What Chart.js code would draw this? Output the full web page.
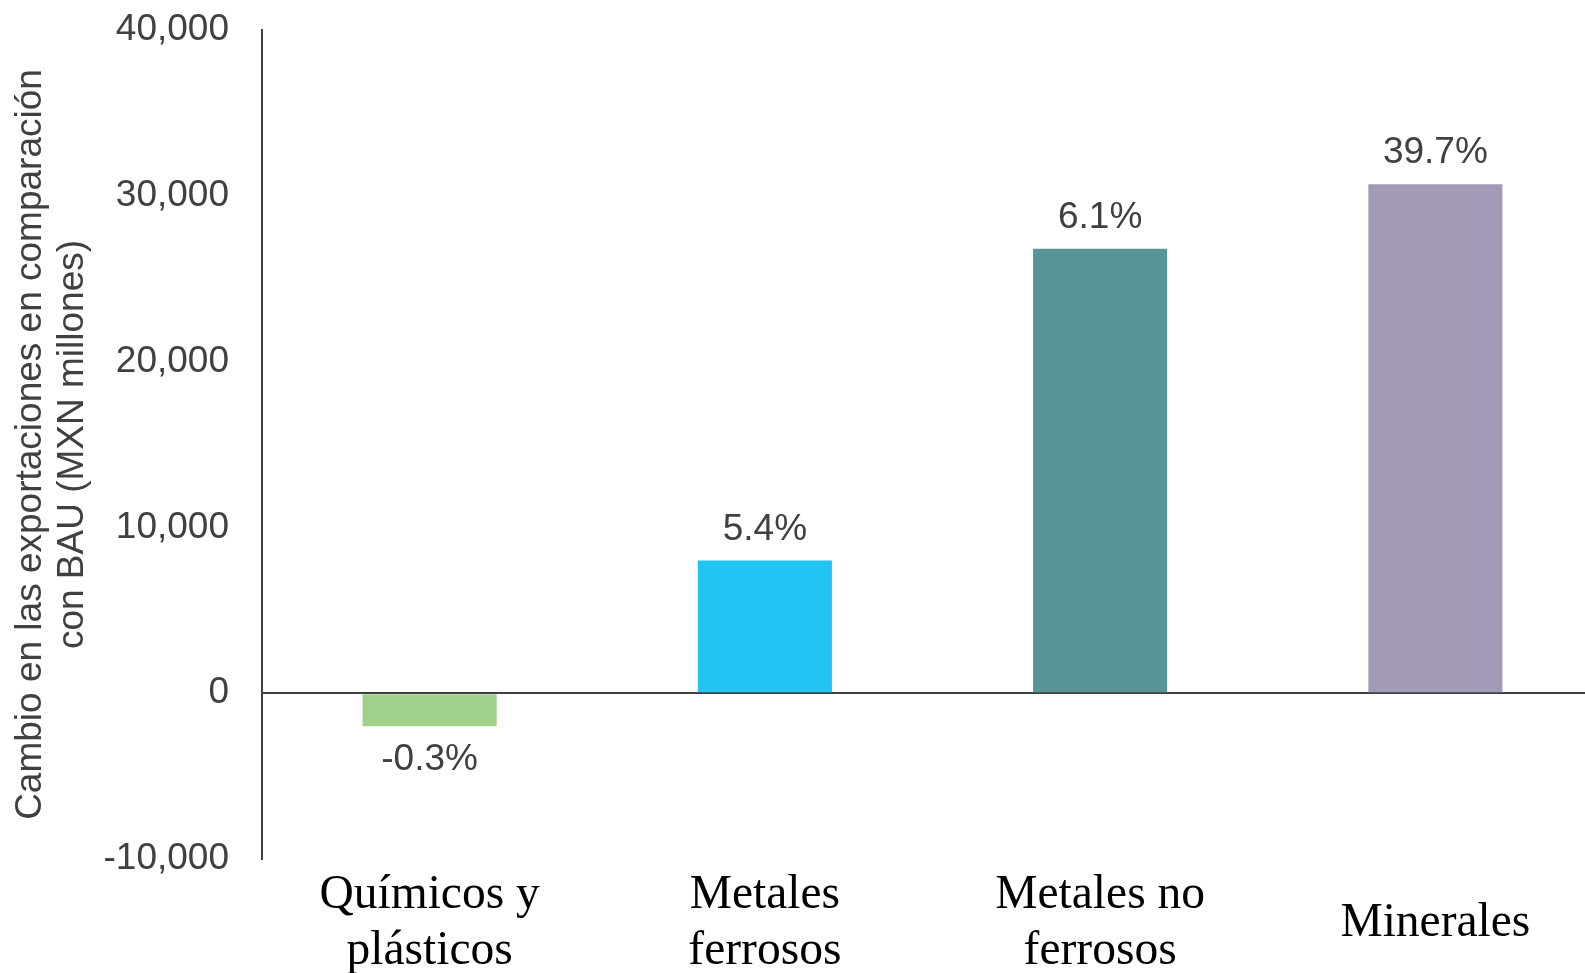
<!DOCTYPE html>
<html>
<head>
<meta charset="utf-8">
<script src="https://cdn.jsdelivr.net/npm/chart.js@4/dist/chart.umd.min.js"></script>
<style>
  html, body { margin: 0; padding: 0; background: #fff; }
  #wrap { width: 1585px; height: 973px; }
</style>
</head>
<body>
<div id="wrap"><canvas id="myChart"></canvas></div>
<script>
// categorias y valores
var categorias = [["Químicos y", "plásticos"], ["Metales", "ferrosos"], ["Metales no", "ferrosos"], "Minerales"];
var valores = [-2000, 8000, 26800, 30700];
var porcentajes = ["-0.3%", "5.4%", "6.1%", "39.7%"];
var colores = ["#A0D18B", "#21C4F2", "#589597", "#A39AB8"];
var yTicks = [-10000, 0, 10000, 20000, 30000, 40000];

// etiquetas de porcentaje sobre las barras
var etiquetas = {
  id: 'etiquetas',
  afterDatasetsDraw: function(chart) {
    var ctx = chart.ctx;
    var meta = chart.getDatasetMeta(0);
    ctx.save();
    ctx.font = '37px "Liberation Sans", Arial, sans-serif';
    ctx.fillStyle = '#404040';
    ctx.textAlign = 'center';
    ctx.textBaseline = 'alphabetic';
    meta.data.forEach(function(bar, i) {
      if (valores[i] >= 0) {
        ctx.fillText(porcentajes[i], bar.x, bar.y - 21);
      } else {
        ctx.fillText(porcentajes[i], bar.x, bar.y + 44);
      }
    });
    ctx.restore();
  }
};

// el area del grafico sigue un poco mas alla del borde derecho
var extender = {
  id: 'extender',
  afterLayout: function(chart) {
    var extra = 18;
    var x = chart.scales.x;
    x.right += extra;
    x.width += extra;
    x.configure();
    chart.chartArea.right += extra;
    chart.chartArea.width += extra;
  }
};

var ctx = document.getElementById("myChart").getContext('2d');
var myChart = new Chart(ctx, {
  type: 'bar',
  data: {
    labels: categorias,
    datasets: [{
      data: valores,
      backgroundColor: colores,
      barPercentage: 0.40,
      categoryPercentage: 1
    }]
  },
  plugins: [etiquetas, extender],
  options: {
    responsive: true,
    maintainAspectRatio: false,
    animation: false,
    layout: {
      padding: { top: 30, right: 0, bottom: 0, left: 0 }
    },
    plugins: {
      legend: { display: false },
      tooltip: { enabled: false }
    },
    scales: {
      x: {
        grid: { display: false },
        border: { display: false },
        afterFit: function(scale) { scale.height = 114; },
        ticks: {
          color: '#000',
          padding: 29,
          crossAlign: 'center',
          maxRotation: 0,
          autoSkip: false,
          font: { family: '"Liberation Serif", "Times New Roman", serif', size: 47.5, lineHeight: 1.16 }
        }
      },
      y: {
        min: -10000,
        max: 40000,
        afterBuildTicks: function(scale) {
          scale.ticks = yTicks.map(function(v) { return { value: v }; });
        },
        afterFit: function(scale) {
          scale.width = 262;
          scale.paddingTop = 0;
          scale.paddingBottom = 0;
        },
        grid: {
          drawTicks: false,
          color: function(c) { return c.tick && c.tick.value === 0 ? '#404040' : 'rgba(0,0,0,0)'; },
          lineWidth: 2
        },
        border: { color: '#404040', width: 2 },
        ticks: {
          color: '#404040',
          padding: 33,
          font: { family: '"Liberation Sans", Arial, sans-serif', size: 37 },
          callback: function(v) { return v.toLocaleString('en-US'); }
        },
        title: {
          display: true,
          text: ["Cambio en las exportaciones en comparación", "con BAU (MXN millones)"],
          color: '#404040',
          padding: { top: 10, bottom: 0 },
          font: { family: '"Liberation Sans", Arial, sans-serif', size: 37, lineHeight: 1.14 }
        }
      }
    }
  }
});
</script>
</body>
</html>
